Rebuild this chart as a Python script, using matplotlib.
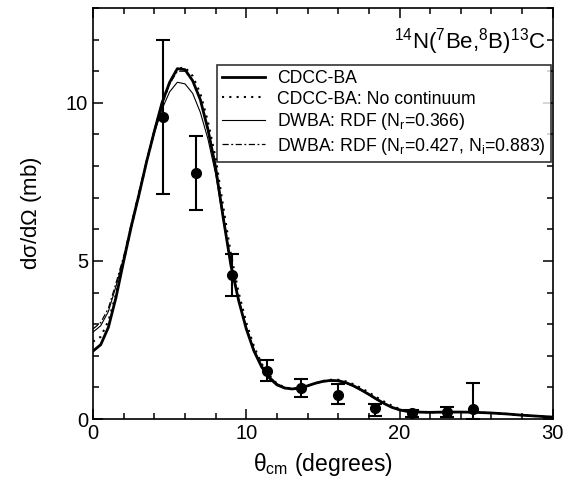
import matplotlib
matplotlib.use("Agg")
import matplotlib.pyplot as plt
from matplotlib.ticker import MultipleLocator

plt.rcParams['font.family'] = ['Liberation Sans', 'DejaVu Sans']
plt.rcParams['mathtext.default'] = 'regular'

# ---- data ----
theta = [0, 0.5, 1.0, 1.5, 2.0, 2.5, 3.0, 3.5, 4.0, 4.5, 5.0, 5.5, 6.0, 6.5, 7.0,
         7.5, 8.0, 8.5, 9.0, 9.5, 10.0, 10.5, 11.0, 11.5, 12.0, 12.5, 13.0, 13.5,
         14.0, 14.5, 15.0, 15.5, 16.0, 16.5, 17.0, 17.5, 18.0, 18.5, 19.0, 19.5,
         20.0, 20.5, 21.0, 22.0, 23.0, 24.0, 25.0, 26.0, 27.0, 28.0, 29.0, 30.0]

cdcc_ba = [2.15, 2.35, 2.9, 3.85, 5.0, 6.1, 7.1, 8.15, 9.1, 10.0, 10.65, 11.08, 11.05,
           10.7, 10.1, 9.15, 7.95, 6.35, 4.85, 3.75, 2.85, 2.15, 1.65, 1.3, 1.08, 0.98,
           0.95, 0.98, 1.05, 1.13, 1.19, 1.22, 1.21, 1.15, 1.05, 0.92, 0.78, 0.63, 0.49,
           0.37, 0.29, 0.24, 0.22, 0.21, 0.22, 0.22, 0.21, 0.19, 0.16, 0.12, 0.09, 0.06]

cdcc_nocont = [2.45, 2.6, 3.1, 3.95, 5.0, 6.1, 7.1, 8.15, 9.1, 9.95, 10.65, 11.08, 11.12,
               10.85, 10.3, 9.4, 8.25, 6.7, 5.2, 4.0, 3.05, 2.3, 1.75, 1.38, 1.12, 1.0,
               0.96, 0.98, 1.05, 1.13, 1.2, 1.24, 1.24, 1.19, 1.1, 0.98, 0.84, 0.69, 0.55,
               0.42, 0.32, 0.26, 0.23, 0.21, 0.22, 0.22, 0.21, 0.19, 0.16, 0.12, 0.09, 0.06]

dwba_1 = [2.75, 2.95, 3.4, 4.2, 5.1, 6.15, 7.15, 8.15, 9.05, 9.8, 10.35, 10.65, 10.6,
          10.3, 9.7, 8.85, 7.75, 6.3, 4.85, 3.75, 2.88, 2.2, 1.7, 1.35, 1.12, 1.0,
          0.96, 0.98, 1.04, 1.12, 1.18, 1.2, 1.19, 1.13, 1.03, 0.9, 0.76, 0.61, 0.48,
          0.36, 0.28, 0.24, 0.22, 0.21, 0.22, 0.22, 0.21, 0.19, 0.16, 0.12, 0.09, 0.06]

dwba_2 = [2.85, 3.05, 3.5, 4.3, 5.15, 6.2, 7.2, 8.2, 9.15, 9.95, 10.6, 11.0, 11.0,
          10.7, 10.1, 9.2, 8.0, 6.45, 4.95, 3.8, 2.9, 2.2, 1.68, 1.32, 1.1, 0.99,
          0.95, 0.98, 1.05, 1.13, 1.19, 1.22, 1.21, 1.15, 1.05, 0.92, 0.78, 0.63, 0.49,
          0.37, 0.29, 0.24, 0.22, 0.21, 0.22, 0.22, 0.21, 0.19, 0.16, 0.12, 0.09, 0.06]

exp_theta = [4.59, 6.7, 9.05, 11.33, 13.6, 16.0, 18.4, 20.8, 23.07, 24.77]
exp_sigma = [9.54, 7.78, 4.56, 1.53, 0.98, 0.75, 0.34, 0.19, 0.21, 0.33]
exp_err_up = [2.46, 1.16, 0.65, 0.34, 0.27, 0.36, 0.14, 0.10, 0.16, 0.80]
exp_err_dn = [2.41, 1.18, 0.66, 0.34, 0.29, 0.28, 0.23, 0.14, 0.16, 0.33]

labels = ['CDCC-BA', 'CDCC-BA: No continuum', r'DWBA: RDF (N$_r$=0.366)',
          r'DWBA: RDF (N$_r$=0.427, N$_i$=0.883)']

# ---- plot ----
fig = plt.figure(figsize=(5.64, 4.83), dpi=100)
ax = fig.add_axes([0.165, 0.1325, 0.815, 0.851])

ax.plot(theta, cdcc_ba, color='black', lw=2.0, label=labels[0])
ax.plot(theta, cdcc_nocont, color='black', lw=1.5, linestyle=(0, (1, 2.5)), label=labels[1])
ax.plot(theta, dwba_1, color='black', lw=0.8, label=labels[2])
ax.plot(theta, dwba_2, color='black', lw=0.9, linestyle=(0, (5, 2, 1.5, 2)), label=labels[3])

ax.errorbar(exp_theta, exp_sigma, yerr=[exp_err_dn, exp_err_up], fmt='o', color='black',
            ms=7, elinewidth=1.5, capsize=5, capthick=1.5, clip_on=True)

ax.set_xlim(0, 30)
ax.set_ylim(0, 13)
ax.xaxis.set_major_locator(MultipleLocator(10))
ax.xaxis.set_minor_locator(MultipleLocator(2))
ax.yaxis.set_major_locator(MultipleLocator(5))
ax.yaxis.set_minor_locator(MultipleLocator(1))
ax.tick_params(which='both', direction='in', top=True, right=True, labelsize=14.5, width=1.1)
ax.tick_params(which='major', length=7)
ax.tick_params(which='minor', length=4)
for s in ax.spines.values():
    s.set_linewidth(1.2)

ax.set_xlabel(r'$\theta_{cm}$ (degrees)', fontsize=16.5, labelpad=6)
ax.set_ylabel(r'd$\sigma$/d$\Omega$ (mb)', fontsize=16, labelpad=16)

ax.text(0.985, 0.955, r'$^{14}$N($^{7}$Be,$^{8}$B)$^{13}$C', transform=ax.transAxes,
        ha='right', va='top', fontsize=16)

leg = ax.legend(loc='upper left', bbox_to_anchor=(0.27, 0.862), borderaxespad=0,
                fontsize=12.7, frameon=True, fancybox=False, edgecolor='black',
                handlelength=2.4, labelspacing=0.2, borderpad=0.3, handletextpad=0.7)
leg.get_frame().set_linewidth(1.2)

fig.savefig('out.png', dpi=100)
